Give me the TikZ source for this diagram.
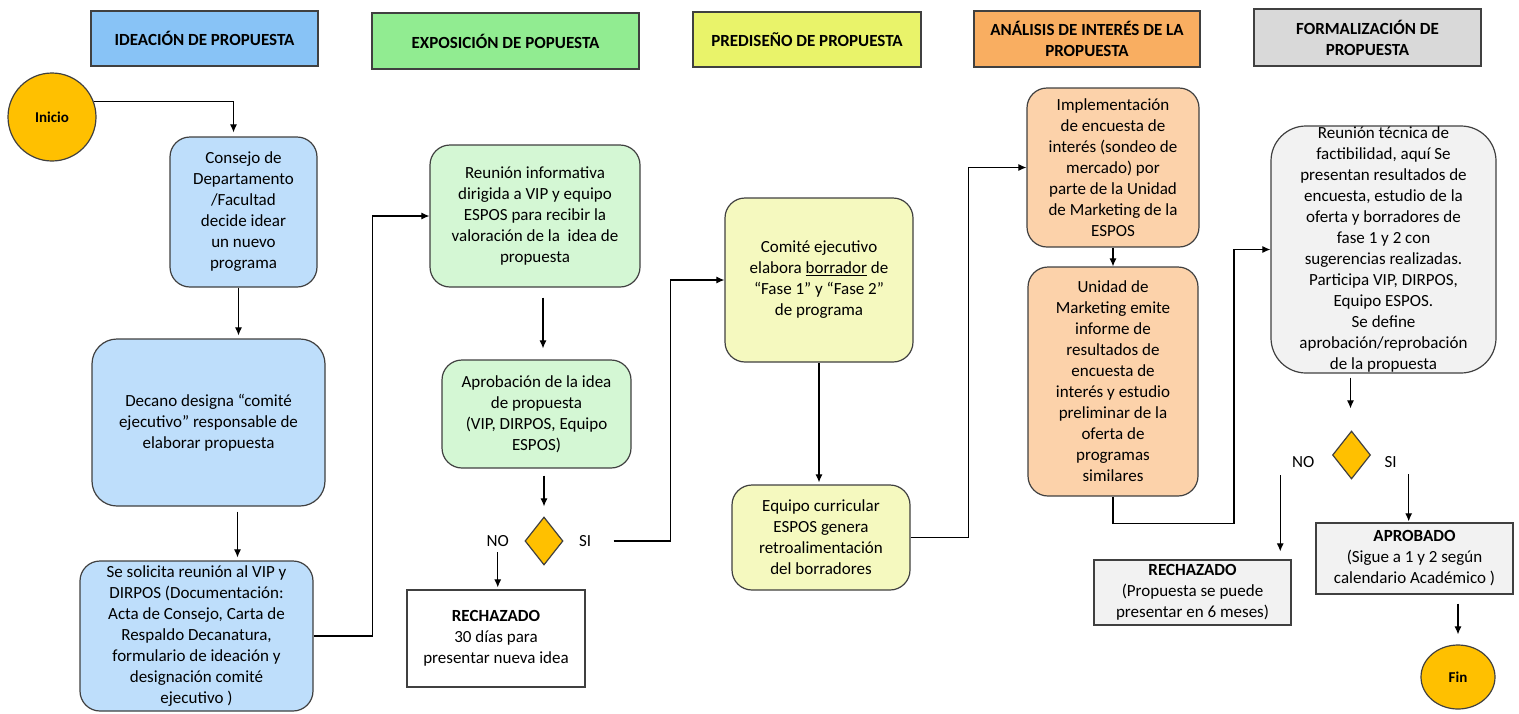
\documentclass[tikz,border=0pt]{standalone}
\usepackage{fontspec}
\setmainfont{Carlito}
\usetikzlibrary{shapes, arrows.meta, positioning, calc}

\definecolor{hblue}{RGB}{136,195,246}
\definecolor{lblue}{RGB}{190,222,251}
\definecolor{hgreen}{RGB}{145,236,145}
\definecolor{lgreen}{RGB}{212,247,212}
\definecolor{hyellow}{RGB}{233,243,106}
\definecolor{lyellow}{RGB}{245,249,191}
\definecolor{horange}{RGB}{249,174,97}
\definecolor{lorange}{RGB}{252,210,170}
\definecolor{hgray}{RGB}{217,217,217}
\definecolor{lgray}{RGB}{242,242,242}
\definecolor{gold}{RGB}{255,192,0}
\definecolor{edge}{RGB}{64,64,64}

\begin{document}
\begin{tikzpicture}[x=1pt, y=-1pt, font=\fontsize{17}{21}\selectfont,
	hdr/.style={draw=edge, line width=1.3pt, align=center, inner sep=0pt, font=\fontsize{17}{21}\selectfont\bfseries},
	box/.style={draw=edge, line width=1.2pt, rounded corners=20pt, align=center, inner sep=0pt},
	sq/.style={draw=edge, line width=1.2pt, align=center, inner sep=0pt},
	term/.style={draw=edge, line width=1.2pt, ellipse, fill=gold, inner sep=0pt, font=\fontsize{15}{18}\selectfont\bfseries},
	cond/.style={draw=edge, line width=1.2pt, diamond, fill=gold, inner sep=0pt, minimum width=38pt, minimum height=48pt},
	arr/.style={-{Latex[length=8pt,width=7pt]}, line width=1.1pt}]
	\useasboundingbox (0,0) rectangle (1519,713);
	\node[hdr, fill=hblue, minimum width=227pt, minimum height=55pt] (h1) at (204.5,38.5) {IDEACIÓN DE PROPUESTA};
	\node[hdr, fill=hgreen, minimum width=267pt, minimum height=56pt] (h2) at (505.5,41) {EXPOSICIÓN DE POPUESTA};
	\node[hdr, fill=hyellow, minimum width=228pt, minimum height=55pt] (h3) at (807,39.5) {PREDISEÑO DE PROPUESTA};
	\node[hdr, fill=horange, minimum width=226pt, minimum height=56pt] (h4) at (1087,39) {ANÁLISIS DE INTERÉS DE LA\\PROPUESTA};
	\node[hdr, fill=hgray, minimum width=227pt, minimum height=57pt] (h5) at (1367.5,37.5) {FORMALIZACIÓN DE\\PROPUESTA};
	\node[term, minimum width=88pt, minimum height=88pt] (inicio) at (52,117) {Inicio};
	\node[box, fill=lblue, minimum width=147pt, minimum height=150pt] (consejo) at (243.5,212) {Consejo de\\Departamento\\/Facultad\\decide idear\\un nuevo\\programa};
	\node[box, fill=lblue, minimum width=233pt, minimum height=167pt, rounded corners=25pt] (decano) at (208.5,422.5) {Decano designa “comité\\ejecutivo” responsable de\\elaborar propuesta};
	\node[box, fill=lblue, minimum width=233pt, minimum height=150pt] (solicita) at (196.5,636) {Se solicita reunión al VIP y\\DIRPOS (Documentación:\\Acta de Consejo, Carta de\\Respaldo Decanatura,\\formulario de ideación y\\designación comité\\ejecutivo )};
	\node[box, fill=lgreen, minimum width=210pt, minimum height=142pt] (reunion) at (535,216) {Reunión informativa\\dirigida a VIP y equipo\\ESPOS para recibir la\\valoración de la\ \ idea de\\propuesta};
	\node[box, fill=lgreen, minimum width=189pt, minimum height=108pt] (aprob) at (536.5,414) {Aprobación de la idea\\de propuesta\\(VIP, DIRPOS, Equipo\\ESPOS)};
	\node[cond] (d1) at (544,541) {};
	\node[left=12pt of d1] (no1) {NO};
	\node[right=12pt of d1] (si1) {SI};
	\node[sq, fill=white, minimum width=178pt, minimum height=97pt] (rech1) at (496,638.5) {\textbf{RECHAZADO}\\30 días para\\presentar nueva idea};
	\node[box, fill=lyellow, minimum width=188pt, minimum height=164pt] (comite) at (819,280) {Comité ejecutivo\\elabora \underline{borrador} de\\“Fase 1” y “Fase 2”\\de programa};
	\node[box, fill=lyellow, minimum width=178pt, minimum height=105pt] (equipo) at (821,537.5) {Equipo curricular\\ESPOS genera\\retroalimentación\\del borradores};
	\node[box, fill=lorange, minimum width=172pt, minimum height=159pt] (impl) at (1113,167.5) {Implementación\\de encuesta de\\interés (sondeo de\\mercado) por\\parte de la Unidad\\de Marketing de la\\ESPOS};
	\node[box, fill=lorange, minimum width=170pt, minimum height=229pt] (unidad) at (1113,381.5) {Unidad de\\Marketing emite\\informe de\\resultados de\\encuesta de\\interés y estudio\\preliminar de la\\oferta de\\programas\\similares};
	\node[box, fill=lgray, minimum width=225pt, minimum height=247pt, rounded corners=35pt] (tecnica) at (1383.5,249.5) {Reunión técnica de\\factibilidad, aquí Se\\presentan resultados de\\encuesta, estudio de la\\oferta y borradores de\\fase 1 y 2 con\\sugerencias realizadas.\\Participa VIP, DIRPOS,\\Equipo ESPOS.\\Se define\\aprobación/reprobación\\de la propuesta};
	\node[cond] (d2) at (1351.5,455) {};
	\node[left=14pt of d2, yshift=-7pt] (no2) {NO};
	\node[right=10pt of d2, yshift=-7pt] (si2) {SI};
	\node[sq, fill=lgray, minimum width=197pt, minimum height=65pt] (rech2) at (1192.5,592.5) {\textbf{RECHAZADO}\\(Propuesta se puede\\presentar en 6 meses)};
	\node[sq, fill=lgray, minimum width=197pt, minimum height=71pt] (aprobado) at (1414.5,558.5) {\textbf{APROBADO}\\(Sigue a 1 y 2 según\\calendario Académico )};
	\node[term, minimum width=74pt, minimum height=64pt] (fin) at (1458,677) {Fin};
	\draw[arr, shorten >=4pt] (inicio.20) -| ([xshift=-10pt]consejo.north);
	\draw[arr, shorten >=3pt] ([xshift=-5pt]consejo.south) -- ([xshift=-5pt]consejo.south |- decano.north);
	\draw[arr, shorten <=5pt, shorten >=3pt] ([xshift=29pt]decano.south) -- ([xshift=29pt]decano.south |- solicita.north);
	\draw[arr] (solicita.east) -- ++(59,0) |- (reunion.west);
	\draw[arr, shorten <=10pt, shorten >=11pt] ([xshift=8pt]reunion.south) -- ([xshift=8pt]reunion.south |- aprob.north);
	\draw[arr, shorten <=7pt, shorten >=10pt] ([xshift=7.5pt]aprob.south) -- (d1.north);
	\draw[arr, shorten <=50pt] (d1.east) -- ++(107,0) |- (comite.west);
	\draw[arr, shorten <=2pt, shorten >=2pt] (no1.south) -- (no1.south |- rech1.north);
	\draw[arr, shorten >=2pt] (comite.south) -- (comite.south |- equipo.north);
	\draw[arr] (equipo.east) -- ++(58,0) |- (impl.west);
	\draw[arr] (impl.south) -- (unidad.north);
	\draw[arr] (unidad.south) -- ++(0,27) -- ++(121,0) |- (tecnica.west);
	\draw[arr, shorten <=4pt, shorten >=22pt] ([xshift=-33pt]tecnica.south) -- ([xshift=-33pt]tecnica.south |- d2.north);
	\draw[arr, shorten <=4pt, shorten >=8pt] ([xshift=-23pt]no2.south) -- ([xshift=-23pt]no2.south |- rech2.north);
	\draw[arr, shorten <=3pt, shorten >=1pt] ([xshift=18pt]si2.south) -- ([xshift=18pt]si2.south |- aprobado.north);
	\draw[arr, shorten <=9pt, shorten >=10pt] (fin.north |- aprobado.south) -- (fin.north);
\end{tikzpicture}
\end{document}
